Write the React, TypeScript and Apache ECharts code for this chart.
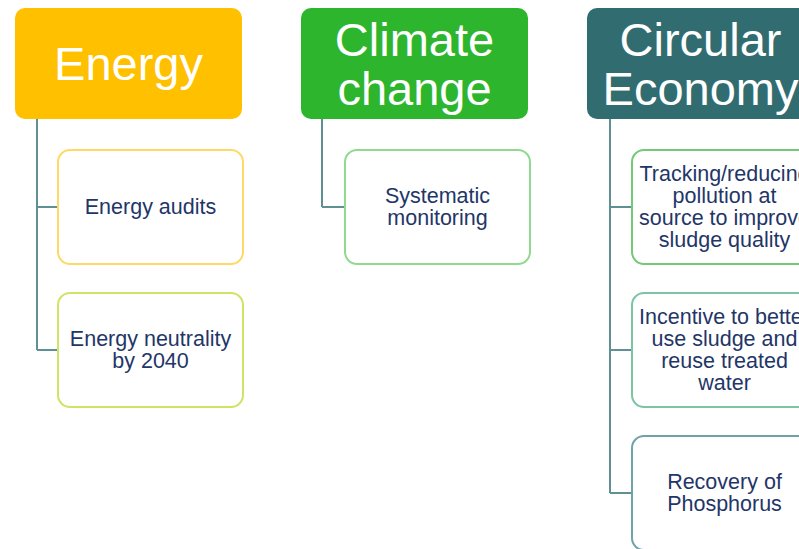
import React, { useEffect, useRef } from "react";
import * as echarts from "echarts";

const headers = ["Energy", "Climate\nchange", "Circular\nEconomy"];
const headerColors = ["#FFC000", "#2DB52D", "#316C71"];
const energyItems = ["Energy audits", "Energy neutrality\nby 2040"];
const climateItems = ["Systematic\nmonitoring"];
const circularItems = [
  "Tracking/reducing\npollution at\nsource to improve\nsludge quality",
  "Incentive to better\nuse sludge and\nreuse treated\nwater",
  "Recovery of\nPhosphorus",
];
const energyBorders = ["#FFD966", "#CDE466"];
const climateBorders = ["#90D98F"];
const circularBorders = ["#72C978", "#7CC4A6", "#70A3A7"];

const columns = [
  { items: energyItems, borders: energyBorders },
  { items: climateItems, borders: climateBorders },
  { items: circularItems, borders: circularBorders },
];

const FONT = "Liberation Sans";

export default function App() {
  const ref = useRef<HTMLDivElement>(null);
  useEffect(() => {
    if (!ref.current) return;
    const chart = echarts.init(ref.current, null, { renderer: "svg" });
    const colX = [15, 301, 587];
    const childXs = [58, 345, 632];
    const lineXs = [37, 322, 610];
    const headerW = 227;
    const headerY = 8;
    const headerH = 111;
    const childW = 185;
    const childH = 114;
    const childY0 = 150;
    const childStep = 143;
    const lineColor = "#5F9094";
    const elements: any[] = [];

    columns.forEach((col, ci) => {
      const x = colX[ci];
      elements.push({
        type: "rect",
        shape: { x, y: headerY, width: headerW, height: headerH, r: 10 },
        style: { fill: headerColors[ci] },
      });
      elements.push({
        type: "text",
        x: x + headerW / 2,
        y: headerY + headerH / 2,
        style: {
          text: headers[ci],
          fill: "#ffffff",
          fontSize: 47,
          fontFamily: FONT,
          lineHeight: 49,
          align: "center",
          verticalAlign: "middle",
        },
      });
      const lx = lineXs[ci];
      const lastMid = childY0 + (col.items.length - 1) * childStep + childH / 2;
      elements.push({
        type: "line",
        shape: { x1: lx, y1: headerY + headerH, x2: lx, y2: lastMid },
        style: { stroke: lineColor, lineWidth: 2 },
      });
      col.items.forEach((txt, i) => {
        const cy = childY0 + i * childStep;
        const cx = childXs[ci];
        const mid = cy + childH / 2;
        elements.push({
          type: "line",
          shape: { x1: lx, y1: mid, x2: cx, y2: mid },
          style: { stroke: lineColor, lineWidth: 2 },
        });
        elements.push({
          type: "rect",
          shape: { x: cx, y: cy, width: childW, height: childH, r: 12 },
          style: { fill: "#ffffff", stroke: col.borders[i], lineWidth: 2 },
        });
        elements.push({
          type: "text",
          x: cx + childW / 2,
          y: mid,
          style: {
            text: txt,
            fill: "#1F3668",
            fontSize: 21.5,
            fontFamily: FONT,
            lineHeight: 22,
            align: "center",
            verticalAlign: "middle",
          },
        });
      });
    });

    chart.setOption({
      animation: false,
      backgroundColor: "#ffffff",
      graphic: { elements },
    });
    return () => chart.dispose();
  }, []);
  return (
    <div
      ref={ref}
      style={{ position: "fixed", left: 0, top: 0, width: 799, height: 549 }}
    />
  );
}
